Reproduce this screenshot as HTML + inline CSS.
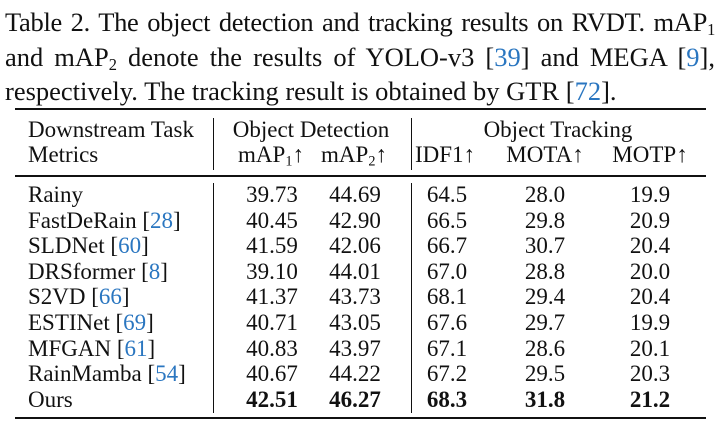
<!DOCTYPE html>
<html><head><meta charset="utf-8"><style>
body{margin:0;background:#fff;}
#wrap{position:relative;width:720px;height:428px;overflow:hidden;font-family:"Liberation Serif",serif;color:#111;}
.cl{position:absolute;left:5px;width:710px;font-size:26.5px;line-height:30px;text-align:justify;text-align-last:justify;white-space:nowrap;}
sub{font-size:0.62em;line-height:0;vertical-align:-0.25em;}
.t{position:absolute;font-size:23px;white-space:nowrap;line-height:26px;}
.c{transform:translateX(-50%);}
.rule{position:absolute;left:15px;width:691px;background:#111;}
.v{position:absolute;width:1.3px;background:#111;}
.ref{color:#2a76c0;}
b{font-weight:bold;}
</style></head><body>
<div id="wrap">
<div class="cl" style="top:7px;letter-spacing:-0.3px">Table 2. The object detection and tracking results on RVDT. mAP<sub>1</sub></div>
<div class="cl" style="top:42px">and mAP<sub>2</sub> denote the results of YOLO-v3 [<span class="ref">39</span>] and MEGA [<span class="ref">9</span>],</div>
<div class="cl" style="top:76px;text-align-last:left;text-align:left">respectively. The tracking result is obtained by GTR [<span class="ref">72</span>].</div>
<div class="rule" style="top:108px;height:2px"></div>
<div class="rule" style="top:175px;height:1.5px"></div>
<div class="rule" style="top:417px;height:2px"></div>
<div class="v" style="left:213px;top:118px;height:52px"></div>
<div class="v" style="left:411px;top:118px;height:52px"></div>
<div class="v" style="left:213px;top:183px;height:230px"></div>
<div class="v" style="left:411px;top:183px;height:230px"></div>
<div id="tbl"></div>
</div>
<script>
const headers1=[["Downstream Task",28,false],["Object Detection",311,true],["Object Tracking",558,true]];
const headers2=[["Metrics",28,false],["mAP<sub>1</sub>↑",271,true],["mAP<sub>2</sub>↑",354,true],["IDF1↑",445,true],["MOTA↑",545,true],["MOTP↑",650,true]];
const methods=["Rainy","FastDeRain [<span class='ref'>28</span>]","SLDNet [<span class='ref'>60</span>]","DRSformer [<span class='ref'>8</span>]","S2VD [<span class='ref'>66</span>]","ESTINet [<span class='ref'>69</span>]","MFGAN [<span class='ref'>61</span>]","RainMamba [<span class='ref'>54</span>]","Ours"];
const map1=["39.73","40.45","41.59","39.10","41.37","40.71","40.83","40.67","42.51"];
const map2=["44.69","42.90","42.06","44.01","43.73","43.05","43.97","44.22","46.27"];
const idf1=["64.5","66.5","66.7","67.0","68.1","67.6","67.1","67.2","68.3"];
const mota=["28.0","29.8","30.7","28.8","29.4","29.7","28.6","29.5","31.8"];
const motp=["19.9","20.9","20.4","20.0","20.4","19.9","20.1","20.3","21.2"];
const tbl=document.getElementById('tbl');
function put(html,x,y,center,bold,name){
  const d=document.createElement('div');
  d.className='t'+(center?' c':'');
  d.style.left=x+'px';d.style.top=(y-13)+'px';
  d.innerHTML=bold?'<b>'+html+'</b>':html;
  
  
  tbl.appendChild(d);
}
headers1.forEach(h=>put(h[0],h[1],130,h[2],false,'header-cell'));
headers2.forEach(h=>put(h[0],h[1],155,h[2],false,'header-cell'));
const cols=[map1,map2,idf1,mota,motp];
const xs=[272,355,447,545,650];
methods.forEach((m,i)=>{
  const y=195+i*25.6;
  const last=i===methods.length-1;
  put(m,28,y,false,false,'method-label');
  cols.forEach((c,j)=>put(c[i],xs[j],y,true,last,'value-cell'));
});
</script>
</body></html>
